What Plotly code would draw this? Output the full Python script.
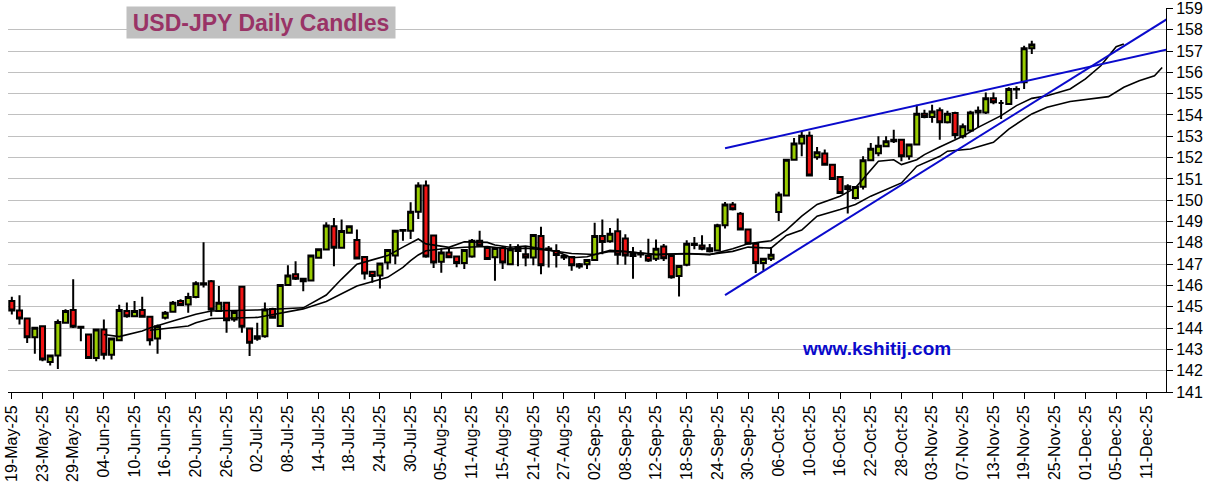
import pandas as pd
import plotly.graph_objects as go

# trading days (weekdays) from 19-May-25, axis runs a few weeks past the last candle
DAYS = pd.bdate_range('2025-05-19', periods=152)
LABELS = [d.strftime('%d-%b-%y') for d in DAYS]
TICK_EVERY = 4
N_SLOTS = 151
PRICE_TICKS = list(range(141, 160))

open_ = [145.27, 144.83, 144.45, 143.57, 144.09, 142.41, 142.71, 144.25, 144.85, 144.06,
         143.70, 142.60, 143.93, 142.75, 143.43, 144.80, 144.56, 144.85, 144.53, 143.51,
         144.48, 144.77, 145.27, 145.11, 145.46, 146.10, 146.20, 144.80, 145.19, 144.40,
         145.94, 143.98, 143.50, 143.62, 144.90, 144.10, 146.02, 146.52, 146.31, 146.23,
         147.30, 147.69, 148.78, 147.77, 148.47, 148.13, 147.34, 146.64, 146.47, 147.08,
         147.40, 148.57, 148.57, 149.46, 150.69, 148.34, 147.11, 147.55, 147.36, 147.05,
         147.36, 148.10, 147.76, 147.32, 147.76, 147.00, 147.78, 147.47, 147.31, 148.32,
         147.73, 147.62, 147.39, 147.34, 147.00, 147.00, 147.20, 148.32, 148.07, 148.54,
         148.20, 147.49, 147.49, 147.38, 147.25, 147.83, 147.38, 146.44, 146.97, 147.96,
         147.88, 147.75, 147.64, 148.82, 149.80, 149.37, 148.62, 147.96, 147.05, 147.25,
         149.45, 150.22, 151.90, 152.66, 153.03, 152.02, 152.19, 151.67, 151.09, 150.66,
         150.10, 150.63, 151.88, 152.20, 152.53, 152.77, 152.84, 152.06, 152.61, 154.06,
         153.90, 154.22, 153.66, 154.09, 153.00, 153.27, 154.12, 154.12, 154.78, 154.56,
         154.52, 155.22, 155.53, 157.13]
high = [145.47, 145.54, 144.48, 144.01, 144.12, 142.71, 144.40, 144.88, 146.29, 144.09,
        143.72, 143.93, 144.40, 143.51, 145.10, 145.20, 145.27, 145.47, 144.56, 144.17,
        144.80, 145.27, 145.35, 145.66, 146.20, 148.03, 146.25, 145.97, 145.22, 144.80,
        145.97, 144.00, 144.25, 145.20, 144.95, 146.02, 146.95, 147.14, 146.35, 147.40,
        147.73, 148.97, 149.17, 149.10, 148.82, 148.63, 147.36, 146.66, 147.05, 147.70,
        148.60, 148.62, 149.90, 150.84, 150.92, 148.36, 147.74, 147.79, 147.40, 147.70,
        148.18, 148.57, 147.80, 147.80, 147.85, 147.95, 147.93, 147.80, 148.40, 148.76,
        147.85, 147.93, 147.45, 147.38, 147.05, 147.22, 148.94, 149.10, 148.70, 149.14,
        148.40, 147.80, 147.65, 148.19, 148.16, 147.95, 147.40, 146.91, 148.12, 148.27,
        148.35, 147.95, 148.90, 149.92, 149.92, 149.45, 148.67, 148.04, 147.25, 147.80,
        150.40, 151.90, 152.92, 153.23, 153.23, 152.50, 152.38, 151.70, 151.12, 150.75,
        150.66, 152.06, 152.69, 153.00, 153.00, 153.31, 152.88, 152.66, 154.48, 154.25,
        154.48, 154.35, 154.20, 154.15, 153.60, 154.20, 154.40, 155.06, 155.06, 154.70,
        155.30, 155.35, 157.25, 157.48]
low = [144.64, 144.17, 143.30, 142.79, 142.44, 142.24, 142.08, 144.20, 144.00, 143.38,
       142.55, 142.44, 142.52, 142.52, 143.38, 144.48, 144.52, 144.48, 143.18, 142.79,
       144.40, 144.72, 145.03, 144.72, 145.40, 145.90, 144.56, 144.75, 143.78, 144.30,
       143.78, 142.69, 143.40, 143.55, 144.45, 144.05, 145.98, 146.25, 145.73, 146.20,
       147.25, 147.65, 146.90, 147.72, 148.45, 147.25, 146.28, 146.13, 145.86, 146.75,
       147.00, 148.10, 148.18, 149.12, 147.30, 146.82, 146.60, 147.28, 146.85, 146.77,
       147.30, 147.83, 147.20, 146.22, 146.77, 146.95, 146.90, 146.90, 146.95, 146.53,
       146.84, 146.84, 147.20, 146.69, 146.78, 146.77, 147.15, 147.47, 148.00, 146.97,
       146.97, 146.31, 147.30, 147.10, 147.15, 147.15, 146.31, 145.48, 146.90, 147.70,
       147.65, 147.55, 147.60, 148.67, 149.52, 148.60, 147.96, 146.58, 146.70, 147.15,
       149.02, 150.20, 151.85, 152.06, 151.16, 151.90, 151.64, 150.98, 150.34, 149.38,
       150.03, 150.50, 151.83, 152.06, 152.50, 152.69, 151.83, 151.90, 152.61, 153.85,
       153.63, 152.84, 153.60, 152.88, 152.90, 153.20, 153.40, 154.05, 154.50, 153.81,
       154.50, 154.75, 155.22, 156.86]
close = [144.83, 144.45, 143.57, 144.01, 142.52, 142.71, 144.28, 144.80, 144.06, 144.01,
         142.60, 143.93, 142.75, 143.51, 144.85, 144.56, 144.80, 144.53, 143.43, 144.09,
         144.72, 145.19, 145.08, 145.46, 146.10, 146.05, 144.87, 145.19, 144.37, 144.75,
         144.06, 143.31, 143.62, 144.87, 144.48, 146.02, 146.47, 146.31, 146.20, 147.40,
         147.70, 148.81, 147.77, 148.55, 148.78, 147.27, 146.56, 146.44, 147.03, 147.66,
         148.57, 148.60, 149.46, 150.69, 147.36, 147.08, 147.55, 147.32, 147.05, 147.66,
         148.10, 147.87, 147.24, 147.76, 147.08, 147.70, 147.62, 147.31, 148.37, 146.95,
         147.70, 147.43, 147.31, 146.95, 146.89, 147.20, 148.32, 148.04, 148.43, 147.44,
         147.41, 147.38, 147.45, 147.17, 147.72, 147.28, 146.39, 146.91, 147.96, 147.90,
         147.72, 147.60, 148.82, 149.80, 149.58, 148.62, 147.96, 147.05, 147.25, 147.44,
         150.27, 151.90, 152.66, 153.03, 151.16, 152.25, 151.67, 151.00, 150.34, 150.53,
         150.62, 151.88, 152.41, 152.56, 152.77, 152.84, 152.06, 152.61, 154.06, 153.90,
         154.16, 153.66, 154.06, 153.06, 153.47, 154.12, 154.20, 154.78, 154.60, 154.56,
         155.22, 155.20, 157.13, 157.31]

# two displaced moving averages (at these trading-day slots)
ma_fast_idx = [12, 14, 17, 18, 21, 24, 26, 32, 38, 41, 43, 45, 47, 49, 51, 53, 54, 56, 57, 59,
               62, 63, 65, 67, 71, 73, 75, 78, 80, 84, 88, 91, 94, 96, 99, 101, 103, 105, 108,
               110, 112, 113, 115, 116, 118, 119, 121, 124, 126, 129, 131, 133, 135, 138, 140,
               142, 144, 145]
ma_fast_val = [143.70, 143.60, 143.86, 144.00, 144.33, 144.65, 144.80, 144.85, 144.95, 145.55,
               146.30, 147.00, 147.20, 147.40, 147.80, 148.18, 147.95, 147.83, 147.79, 148.05,
               148.02, 147.90, 147.79, 147.85, 147.60, 147.30, 147.35, 147.65, 147.60, 147.44,
               147.49, 147.44, 147.72, 147.96, 148.10, 148.60, 149.25, 149.80, 150.19, 150.58,
               151.44, 151.83, 151.90, 151.67, 151.90, 152.14, 152.50, 153.00, 153.42, 153.97,
               154.44, 154.78, 154.90, 155.22, 155.69, 156.31, 157.20, 157.33]
ma_slow_idx = [18, 20, 23, 24, 26, 32, 38, 41, 45, 49, 51, 52, 53, 54, 56, 59, 62, 65, 67, 70,
               73, 76, 78, 80, 84, 88, 91, 94, 96, 99, 101, 103, 105, 108, 110, 112, 114, 116,
               118, 121, 122, 125, 128, 130, 133, 135, 138, 140, 143, 145, 147, 149, 150]
ma_slow_val = [143.90, 143.98, 144.10, 144.25, 144.45, 144.50, 144.90, 145.25, 145.97, 146.38,
               146.85, 147.16, 147.43, 147.63, 147.71, 147.79, 147.83, 147.71, 147.75, 147.65,
               147.50, 147.45, 147.60, 147.58, 147.46, 147.50, 147.46, 147.60, 147.80, 147.75,
               148.35, 148.60, 149.25, 149.56, 149.80, 150.19, 150.50, 150.81, 151.59, 152.06,
               152.30, 152.40, 152.72, 153.34, 154.05, 154.36, 154.63, 154.72, 154.86, 155.30,
               155.61, 155.84, 156.23]

# hand-drawn trend lines (start slot / end slot past the axis edge)
trend_top_idx = [93, 151]
trend_top_val = [152.44, 157.10]
trend_bot_idx = [93, 151]
trend_bot_val = [145.55, 158.58]

FONT = 'Liberation Sans, Arial, sans-serif'
GREEN = '#99CC00'
RED = '#F01414'
BLUE = '#0A0ACC'

n = len(open_)
fig = go.Figure()
fig.add_trace(go.Candlestick(
    x=LABELS[:n], open=open_, high=high, low=low, close=close,
    increasing=dict(fillcolor=GREEN, line=dict(color='black', width=2)),
    decreasing=dict(fillcolor=RED, line=dict(color='black', width=2)),
    whiskerwidth=0, showlegend=False, hoverinfo='skip',
))
for idx, val in [(ma_fast_idx, ma_fast_val), (ma_slow_idx, ma_slow_val)]:
    fig.add_trace(go.Scatter(
        x=[LABELS[i] for i in idx], y=val, mode='lines',
        line=dict(color='black', width=1.6),
        showlegend=False, hoverinfo='skip',
    ))
for idx, val in [(trend_top_idx, trend_top_val), (trend_bot_idx, trend_bot_val)]:
    fig.add_trace(go.Scatter(
        x=[LABELS[i] for i in idx], y=val, mode='lines',
        line=dict(color=BLUE, width=2), showlegend=False, hoverinfo='skip',
    ))

fig.add_annotation(
    text='<b>USD-JPY Daily Candles</b>', xref='paper', yref='paper',
    x=0.2185, y=0.962, xanchor='center', yanchor='middle',
    width=268, height=31, bgcolor='#C0C0C0', borderpad=0, showarrow=False,
    font=dict(family=FONT, size=23, color='#993366'),
)
fig.add_annotation(
    text='<b>www.kshitij.com</b>', xref='paper', yref='paper',
    x=0.750, y=0.112, xanchor='center', yanchor='middle', showarrow=False,
    font=dict(family=FONT, size=19, color=BLUE),
)

fig.update_layout(
    width=1211, height=486,
    margin=dict(l=8, r=45, t=8, b=94, autoexpand=False),
    paper_bgcolor='white', plot_bgcolor='white',
    boxgap=0.06,
    font=dict(family=FONT, color='black'),
    xaxis=dict(
        type='category', categoryorder='array', categoryarray=LABELS,
        range=[-0.5, N_SLOTS - 0.5], automargin=False,
        tickmode='array', tickvals=LABELS[:N_SLOTS:TICK_EVERY], ticktext=LABELS[:N_SLOTS:TICK_EVERY],
        tickangle=-90, tickfont=dict(size=16),
        ticks='outside', ticklen=6, tickcolor='black',
        showline=True, linecolor='black', linewidth=1,
        showgrid=False, rangeslider=dict(visible=False), fixedrange=True,
    ),
    yaxis=dict(
        side='right', range=[141, 159.02], automargin=False,
        tickmode='array', tickvals=PRICE_TICKS,
        tickfont=dict(size=16), ticks='outside', ticklen=6, tickcolor='black',
        ticklabeloverflow='allow',
        showline=True, linecolor='black', linewidth=1,
        gridcolor='#C0C0C0', gridwidth=1, zeroline=False, fixedrange=True,
    ),
)

fig.write_html('out.html', config={'displayModeBar': False},
               post_script="document.body.style.margin='0';")
